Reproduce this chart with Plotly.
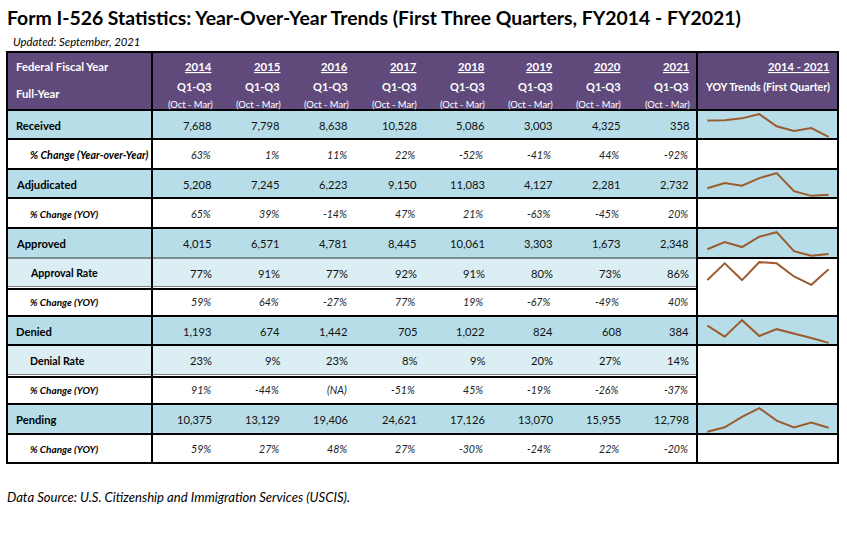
import plotly.graph_objects as go

# ---------------- data ----------------
years = [2014, 2015, 2016, 2017, 2018, 2019, 2020, 2021]
year_labels = ["2014", "2015", "2016", "2017", "2018", "2019", "2020", "2021"]
received = [7688, 7798, 8638, 10528, 5086, 3003, 4325, 358]
received_pct = ["63%", "1%", "11%", "22%", "-52%", "-41%", "44%", "-92%"]
adjudicated = [5208, 7245, 6223, 9150, 11083, 4127, 2281, 2732]
adjudicated_pct = ["65%", "39%", "-14%", "47%", "21%", "-63%", "-45%", "20%"]
approved = [4015, 6571, 4781, 8445, 10061, 3303, 1673, 2348]
approval_rate = [77, 91, 77, 92, 91, 80, 73, 86]
approved_pct = ["59%", "64%", "-27%", "77%", "19%", "-67%", "-49%", "40%"]
denied = [1193, 674, 1442, 705, 1022, 824, 608, 384]
denial_rate = [23, 9, 23, 8, 9, 20, 27, 14]
denied_pct = ["91%", "-44%", "(NA)", "-51%", "45%", "-19%", "-26%", "-37%"]
pending = [10375, 13129, 19406, 24621, 17126, 13070, 15955, 12798]
pending_pct = ["59%", "27%", "48%", "27%", "-30%", "-24%", "22%", "-20%"]

title_text = "Form I-526 Statistics: Year-Over-Year Trends (First Three Quarters, FY2014 - FY2021)"
updated_text = "Updated: September, 2021"
source_text = "Data Source: U.S. Citizenship and Immigration Services (USCIS)."

# ---------------- layout constants (pixels) ----------------
W, H = 847, 538
FONT = "Lato"
PURPLE = "#604A7B"
BLUE = "#B7DEE8"
LIGHT = "#DAEEF3"
SPARK = "#9C5B2E"
L, C1, C2, R = 7, 152, 697, 838
TOP, HB = 52, 110
col_w = (C2 - C1) / 8
bounds = [110, 139, 169, 198, 228, 258, 287, 316, 345, 375, 404, 434, 463]

fmt_n = lambda v: f"{v:,}"
fmt_p = lambda v: f"{v}%"

# kind: main / pct / rate ; spark: series or None ; trend bg
rows = [
    ("Received", "main", [fmt_n(v) for v in received], received, BLUE),
    ("% Change (Year-over-Year)", "pct", received_pct, None, "white"),
    ("Adjudicated", "main", [fmt_n(v) for v in adjudicated], adjudicated, BLUE),
    ("% Change (YOY)", "pct", adjudicated_pct, None, "white"),
    ("Approved", "main", [fmt_n(v) for v in approved], approved, BLUE),
    ("Approval Rate", "rate", [fmt_p(v) for v in approval_rate], approval_rate, "white"),
    ("% Change (YOY)", "pct", approved_pct, None, "white"),
    ("Denied", "main", [fmt_n(v) for v in denied], denied, BLUE),
    ("Denial Rate", "rate", [fmt_p(v) for v in denial_rate], None, "white"),
    ("% Change (YOY)", "pct", denied_pct, None, "white"),
    ("Pending", "main", [fmt_n(v) for v in pending], pending, BLUE),
    ("% Change (YOY)", "pct", pending_pct, None, "white"),
]

fig = go.Figure()
shapes, annos = [], []


def rect(x0, y0, x1, y1, color):
    shapes.append(dict(type="rect", xref="x", yref="y", x0=x0, y0=y0, x1=x1, y1=y1,
                       fillcolor=color, line=dict(width=0), layer="below"))


def hline(y, x0, x1, w=2, color="black"):
    shapes.append(dict(type="line", xref="x", yref="y", x0=x0, x1=x1, y0=y, y1=y,
                       line=dict(color=color, width=w), layer="below"))


def vline(x, y0, y1, w=2, color="black"):
    shapes.append(dict(type="line", xref="x", yref="y", x0=x, x1=x, y0=y0, y1=y1,
                       line=dict(color=color, width=w), layer="below"))


def text(x, y, s, size, color="black", anchor="left", bold=False, italic=False):
    if bold:
        s = f"<b>{s}</b>"
    if italic:
        s = f"<i>{s}</i>"
    annos.append(dict(x=x, y=y, xref="x", yref="y", text=s, showarrow=False,
                      xanchor=anchor, yanchor="middle", borderpad=0, borderwidth=0,
                      font=dict(family=FONT, size=size, color=color)))


# title + notes
text(7, 17, title_text, 19.4, bold=True)
text(13, 41, updated_text, 11.3, italic=True)
text(7, 497, source_text, 13.1, italic=True)

# header
rect(L, TOP, R, HB, PURPLE)
text(16, 66, "Federal Fiscal Year", 11.3, "white", bold=True)
text(16, 93, "Full-Year", 11.3, "white", bold=True)
for i, yl in enumerate(year_labels):
    xr = C1 + col_w * (i + 1) - 8
    text(xr, 66, f"<u>{yl}</u>", 11.4, "white", "right", bold=True)
    text(xr, 86.5, "Q1-Q3", 11, "white", "right", bold=True)
    text(xr + 0.5, 104, "(Oct - Mar)", 9.4, "white", "right")
text(830, 66, f"<u>{years[0]} - {years[-1]}</u>", 11.2, "white", "right", bold=True)
text(830, 86.5, "YOY Trends (First Quarter)", 10.6, "white", "right", bold=True)

# body
ax_n = 2
for r, (label, kind, vals, spark, tbg) in enumerate(rows):
    y0, y1 = bounds[r], bounds[r + 1]
    yc = (y0 + y1) / 2 + 0.5
    bg = BLUE if kind == "main" else (LIGHT if kind == "rate" else "white")
    rect(L, y0, C2, y1, bg)
    rect(C2, y0, R, y1, tbg)
    if kind == "main":
        text(16, yc, label, 11.2, bold=True)
    elif kind == "rate":
        text(30, yc, label, 10.6, bold=True)
    else:
        text(30, yc, label, 10.7 if "Year" in label else 10.0, bold=True, italic=True)
    for i, v in enumerate(vals):
        xr = C1 + col_w * (i + 1) - 8
        if kind == "pct":
            text(xr - 1.5, yc, v, 10.6, "#222222", "right", italic=True)
        else:
            text(xr, yc, v, 11.2, "#111111", "right")
    if spark is not None:
        lo, hi = min(spark), max(spark)
        pad = (hi - lo) * 0.05
        xa, ya = f"xaxis{ax_n}", f"yaxis{ax_n}"
        fig.add_trace(go.Scatter(x=years, y=spark, mode="lines",
                                 line=dict(color=SPARK, width=2),
                                 xaxis=f"x{ax_n}", yaxis=f"y{ax_n}",
                                 hoverinfo="skip", showlegend=False))
        ptop, pbot = y0 + 3, y1 - 1
        fig.layout[xa] = dict(domain=[707 / W, 829 / W], range=[years[0] - 0.02, years[-1] + 0.02],
                              visible=False, fixedrange=True)
        fig.layout[ya] = dict(domain=[1 - pbot / H, 1 - ptop / H], range=[lo - pad, hi + pad],
                              visible=False, fixedrange=True)
        ax_n += 1

# separators
full = [110, 139, 169, 198, 228, 316, 345, 404, 434]
for y in full:
    hline(y, L, R)
hline(258, L, C2, 1, "#333333")
hline(258, C2, R)
for y in (287, 375):
    hline(y - 0.5, L, C2, 1, "#808080")
    hline(y + 2, L, C2, 2)
hline(TOP, L - 1, R + 1)
hline(463, L - 1, R + 1)
for x in (L, C1, C2, R):
    vline(x, TOP, 463)

# base pixel-space axes
fig.add_trace(go.Scatter(x=[0], y=[0], mode="markers", marker=dict(opacity=0),
                         hoverinfo="skip", showlegend=False))
fig.update_layout(
    width=W, height=H, margin=dict(l=0, r=0, t=0, b=0),
    paper_bgcolor="white", plot_bgcolor="rgba(0,0,0,0)",
    xaxis=dict(range=[0, W], visible=False, domain=[0, 1], fixedrange=True),
    yaxis=dict(range=[H, 0], visible=False, domain=[0, 1], fixedrange=True),
    shapes=shapes, annotations=annos, showlegend=False,
)
fig.write_html("out.html", config={"displayModeBar": False},
               post_script="document.body.style.margin='0';document.body.style.overflow='hidden';")
